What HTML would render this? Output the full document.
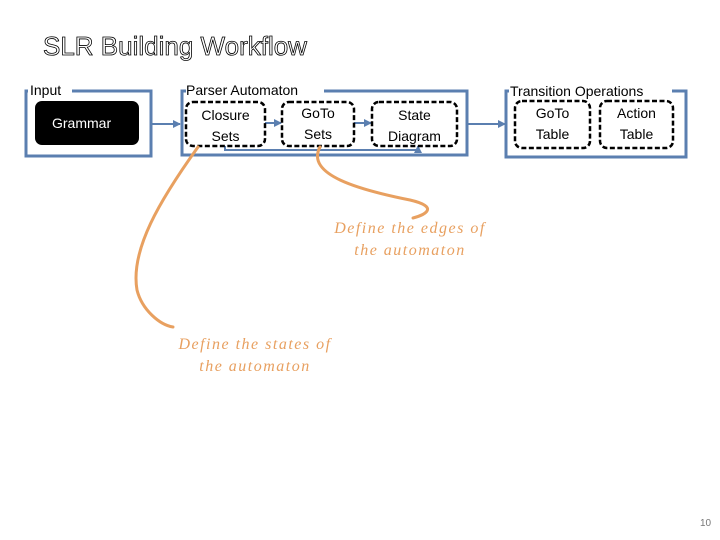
<!DOCTYPE html>
<html><head><meta charset="utf-8"><style>
body{margin:0;width:720px;height:540px;background:#fff;position:relative;overflow:hidden;font-family:"Liberation Sans",sans-serif}
.t{position:absolute;white-space:nowrap}
</style></head><body>
<svg width="720" height="540" style="position:absolute;left:0;top:0">
<defs><marker id="a" markerWidth="8" markerHeight="8" refX="7" refY="4" orient="auto" markerUnits="userSpaceOnUse"><path d="M0,0 L8,4 L0,8 z" fill="#5b7fb0"/></marker></defs>
<text x="43" y="55" font-family="Liberation Sans" font-size="26" fill="#fff" stroke="#000" stroke-width="0.8">SLR Building Workflow</text>
<g fill="none" stroke="#5b7fb0" stroke-width="3">
<path d="M72,91 H151 V156 H26 V91 H28"/>
<path d="M324,91 H467 V155 H182 V91 H186"/>
<path d="M672,91 H686 V157 H506 V91 H509"/>
</g>
<g stroke="#5b7fb0" stroke-width="2" fill="none">
<line x1="152" y1="124" x2="180" y2="124" marker-end="url(#a)"/>
<line x1="265" y1="123" x2="281" y2="123" marker-end="url(#a)"/>
<line x1="354" y1="123" x2="371" y2="123" marker-end="url(#a)"/>
<line x1="468" y1="124" x2="505" y2="124" marker-end="url(#a)"/>
<path d="M225,146 V150 H418 V146" marker-end="url(#a)"/>
</g>
<rect x="35" y="101" width="104" height="44" rx="7" fill="#000"/>
<g fill="#fff" stroke="#000" stroke-width="2.5" stroke-dasharray="5,2.5">
<rect x="186" y="102" width="79" height="44" rx="7"/>
<rect x="282" y="102" width="72" height="44" rx="7"/>
<rect x="372" y="102" width="85" height="44" rx="7"/>
<rect x="515" y="101" width="75" height="47" rx="7"/>
<rect x="600" y="101" width="73" height="47" rx="7"/>
</g>
<g fill="none" stroke="#e8a060" stroke-width="3" stroke-linecap="round">
<path d="M198,147 C160,200 130,250 137,290 C142,310 160,325 173,327"/>
<path d="M320,147 C305,175 360,190 410,200 C440,207 425,215 413,218"/>
</g>
</svg>
<div class="t" style="left:30px;top:82px;font-size:14px;background:#fff;padding-right:4px">Input</div>
<div class="t" style="left:52px;top:115px;font-size:14px;color:#fff">Grammar</div>
<div class="t" style="left:186px;top:82px;font-size:14px;background:#fff;padding-right:4px">Parser Automaton</div>
<div class="t" style="left:510px;top:83px;font-size:14px;background:#fff">Transition Operations</div>
<div class="t" style="left:186px;top:105px;width:79px;text-align:center;font-size:14px;line-height:21px">Closure<br>Sets</div>
<div class="t" style="left:282px;top:103px;width:72px;text-align:center;font-size:14px;line-height:21px">GoTo<br>Sets</div>
<div class="t" style="left:372px;top:105px;width:85px;text-align:center;font-size:14px;line-height:21px">State<br>Diagram</div>
<div class="t" style="left:515px;top:103px;width:75px;text-align:center;font-size:14px;line-height:21px">GoTo<br>Table</div>
<div class="t" style="left:600px;top:103px;width:73px;text-align:center;font-size:14px;line-height:21px">Action<br>Table</div>
<div class="t" style="left:320px;top:218px;width:180px;text-align:center;font-family:'Liberation Serif',serif;font-style:italic;font-size:16px;line-height:22px;color:#e8a060;letter-spacing:1.5px">Define the edges of<br>the automaton</div>
<div class="t" style="left:160px;top:334px;width:190px;text-align:center;font-family:'Liberation Serif',serif;font-style:italic;font-size:16px;line-height:22px;color:#e8a060;letter-spacing:1.5px">Define the states of<br>the automaton</div>
<div class="t" style="left:700px;top:518px;font-size:10px;color:#777">10</div>
</body></html>
